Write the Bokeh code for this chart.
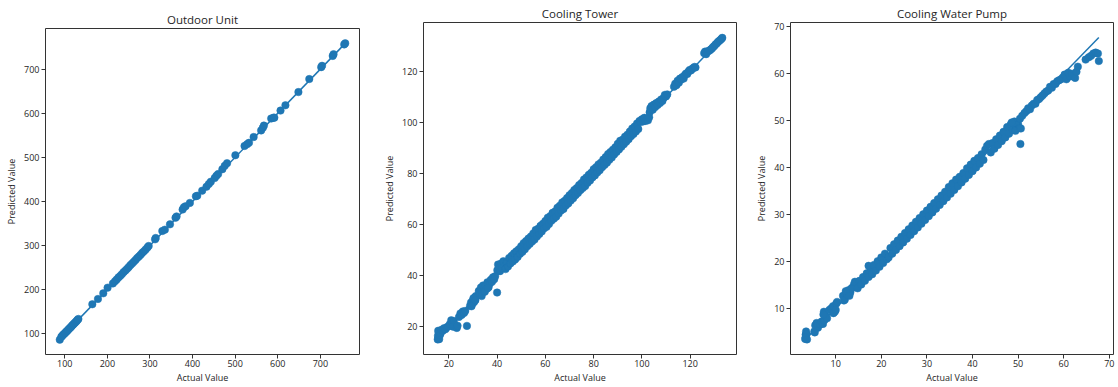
from bokeh.plotting import figure
from bokeh.layouts import row, column
from bokeh.models import Range1d, FixedTicker
from bokeh.embed import file_html
from bokeh.resources import INLINE

# ---------------- data ----------------
titles = ["Outdoor Unit", "Cooling Tower", "Cooling Water Pump"]
x_label = "Actual Value"
y_label = "Predicted Value"

ou_ticks = [100, 200, 300, 400, 500, 600, 700]
ct_ticks = [20, 40, 60, 80, 100, 120]
cwp_ticks = [10, 20, 30, 40, 50, 60, 70]

ou_act = [88.3, 92, 94, 96, 98, 100, 102, 104, 106, 108,
          110, 112, 114, 116, 118, 120, 122, 124, 126, 128,
          130, 132, 164.7, 177.9, 190.4, 200.5, 213, 218, 222, 226,
          230, 234, 238, 242, 246, 250, 254, 258, 262, 266,
          270, 274, 278, 282, 286, 290, 294, 297, 312, 313.5,
          329, 335, 347, 360, 362.5, 376.6, 379.7, 383.6, 393.7, 407.8,
          411, 422.6, 432.7, 438.2, 442.8, 452, 456, 460, 470, 475.6,
          481, 500.5, 522, 527.8, 532.4, 543.4, 561, 565, 567.5, 584.6,
          590, 592, 606.5, 618, 648.5, 674, 702, 704, 729, 731,
          756, 758.4]
ou_pred = [86.5, 93, 95, 97.5, 99, 101, 103, 105, 106.5, 109,
           111, 113, 114.5, 117, 119, 121, 123, 125, 127, 129,
           131.5, 133.5, 166.8, 178.8, 191.6, 204.4, 214, 219, 223, 227.5,
           231, 235, 239.5, 243, 247, 251, 255.5, 259, 263, 267,
           271.5, 275, 279, 283.5, 287, 291, 295.5, 299, 314, 317,
           333, 336, 348, 363, 366, 381.6, 386.8, 389, 396.6, 411.6,
           413, 424.4, 433.4, 439.4, 444.7, 453, 458, 462, 473, 480.7,
           486.7, 504.7, 525.8, 529.5, 533, 546, 561, 567, 572, 588,
           590, 590, 606, 618, 648, 677.5, 704.5, 707.5, 730, 733.8,
           756, 758.5]

ct_act = [15.4, 15.5, 15.7, 15.8, 16.0, 16.1, 16.3, 15.6, 16.6, 17.0,
          17.5, 18.0, 18.6, 19.2, 19.8, 20.4, 21.0, 21.5, 22.0, 22.4,
          21.8, 23.3, 23.6, 27.5, 24.2, 24.8, 25.3, 25.8, 26.3, 26.8,
          28.8, 29.2, 29.6, 30.0, 30.4, 30.8, 31.2, 29.4, 30.2, 31.0,
          32.4, 32.9, 33.3, 33.8, 34.2, 34.7, 35.1, 35.6, 36.0, 36.5,
          37.0, 37.4, 37.9, 38.3, 38.8, 39.2, 33.6, 34.9, 36.2, 40.0,
          40.1, 40.4, 40.8, 41.2, 41.7, 42.1, 42.6, 43.0, 43.5, 44.0,
          44.5, 45.0, 45.5, 46.0, 46.5, 47.0, 47.5, 48.0, 48.5, 49.0,
          49.5, 50.0, 50.5, 51.0, 51.5, 52.0, 52.5, 53.0, 53.5, 54.0,
          54.5, 55.0, 55.5, 56.0, 56.5, 57.0, 57.5, 58.0, 58.5, 59.0,
          59.5, 60.0, 60.5, 61.0, 61.5, 62.0, 62.5, 63.0, 63.5, 64.0,
          64.5, 65.0, 65.5, 66.0, 66.5, 67.0, 67.5, 68.0, 68.5, 69.0,
          69.5, 70.0, 70.5, 71.0, 71.5, 72.0, 72.5, 73.0, 73.5, 74.0,
          74.5, 75.0, 75.5, 76.0, 76.5, 77.0, 77.5, 78.0, 78.5, 79.0,
          79.5, 80.0, 80.5, 81.0, 81.5, 82.0, 82.5, 83.0, 83.5, 84.0,
          84.5, 85.0, 85.5, 86.0, 86.5, 87.0, 87.5, 88.0, 88.5, 89.0,
          89.5, 90.0, 90.5, 91.0, 91.5, 92.0, 92.5, 93.0, 93.5, 94.0,
          94.5, 95.0, 95.5, 96.0, 96.5, 97.0, 97.5, 98.0, 98.5, 99.0,
          99.5, 100.0, 100.5, 101.0, 101.5, 102.0, 102.5, 103.0, 103.2, 103.5,
          104.0, 104.5, 105.0, 105.5, 106.0, 106.5, 107.0, 107.5, 108.0, 108.5,
          109.0, 109.5, 110.0, 110.5, 113.3, 113.8, 114.3, 114.8, 115.3, 115.8,
          116.3, 116.8, 117.3, 117.8, 118.3, 118.8, 119.3, 119.8, 120.3, 120.8,
          121.3, 121.8, 122.2, 125.8, 126.2, 126.6, 127.0, 127.5, 128.0, 128.5,
          129.0, 129.5, 130.0, 130.5, 131.0, 131.5, 132.0, 132.5, 133.0, 133.3]
ct_pred = [14.8, 16.2, 15.4, 17.5, 14.9, 18.0, 16.5, 18.2, 17.2, 18.6,
           18.2, 19.2, 18.8, 19.6, 19.9, 20.8, 22.3, 21.2, 22.0, 20.6,
           19.8, 19.3, 20.2, 20.1, 23.6, 25.0, 24.4, 25.8, 25.2, 26.0,
           28.0, 29.3, 28.6, 30.2, 29.4, 31.3, 31.8, 27.8, 31.0, 30.2,
           33.8, 32.5, 35.2, 33.0, 36.0, 34.0, 35.8, 34.6, 37.2, 35.4,
           36.8, 38.2, 37.4, 39.2, 38.4, 39.6, 31.8, 33.5, 35.0, 33.2,
           42.0, 44.2, 43.0, 41.6, 44.6, 42.8, 45.5, 43.6, 42.4, 45.0,
           43.4, 46.8, 44.6, 47.6, 45.4, 48.6, 46.2, 49.4, 47.2, 50.2,
           48.4, 51.4, 49.2, 52.6, 50.2, 53.4, 51.4, 54.4, 52.3, 55.2,
           53.2, 56.4, 54.0, 57.8, 55.2, 58.2, 56.2, 59.4, 57.2, 60.2,
           58.4, 61.3, 59.0, 62.6, 60.1, 63.2, 61.4, 64.5, 62.2, 65.0,
           63.0, 66.5, 64.2, 67.3, 65.4, 68.6, 66.0, 69.2, 67.4, 70.3,
           68.2, 71.4, 69.3, 72.3, 70.2, 73.5, 71.4, 74.2, 72.3, 75.4,
           73.4, 76.2, 74.2, 77.6, 75.0, 78.4, 76.3, 79.4, 77.2, 80.2,
           78.4, 81.6, 79.2, 82.4, 80.3, 83.5, 81.2, 84.2, 82.4, 85.4,
           83.3, 86.4, 84.2, 87.6, 85.3, 88.4, 86.2, 89.3, 87.4, 90.2,
           88.4, 91.6, 89.4, 92.8, 90.4, 93.2, 91.4, 94.4, 92.4, 95.2,
           93.4, 96.4, 94.6, 97.6, 95.4, 98.4, 96.4, 99.6, 97.4, 100.6,
           100.2, 101.2, 100.4, 101.8, 100.6, 101.2, 100.8, 102.0, 104.0, 105.6,
           106.4, 105.0, 107.0, 106.0, 107.6, 106.8, 108.2, 107.6, 109.0, 108.4,
           109.6, 110.8, 110.2, 111.0, 114.0, 115.2, 114.6, 116.4, 115.6, 117.2,
           116.8, 117.8, 117.2, 118.6, 119.2, 119.0, 120.0, 120.6, 120.4, 121.0,
           121.4, 121.8, 121.6, 127.2, 127.8, 126.8, 127.6, 128.0, 128.2, 128.6,
           129.0, 129.6, 130.0, 130.6, 131.0, 131.6, 132.0, 132.4, 132.8, 133.2]

cwp_act = [3.3, 3.4, 3.5, 3.6, 3.4, 3.7, 5.3, 5.5, 5.8, 6.1,
           5.4, 6.0, 6.6, 6.9, 7.2, 7.5, 7.8, 8.1, 7.4, 7.3,
           8.6, 9.0, 9.4, 9.8, 10.1, 10.3, 9.5, 10.0, 11.6, 12.0,
           12.4, 12.8, 13.2, 13.6, 14.0, 14.4, 11.8, 12.6, 13.4, 14.2,
           12.2, 13.0, 14.8, 15.2, 15.6, 16.0, 16.4, 16.8, 17.2, 17.6,
           17.2, 18.0, 18.4, 18.8, 19.2, 19.6, 20.0, 20.4, 20.8, 21.2,
           21.6, 22.0, 22.4, 22.8, 23.2, 23.6, 24.0, 24.4, 24.8, 25.2,
           25.6, 26.0, 26.4, 26.8, 27.2, 27.6, 28.0, 28.4, 28.8, 29.2,
           29.6, 30.0, 30.4, 30.8, 31.2, 31.6, 32.0, 32.4, 32.8, 33.2,
           33.6, 34.0, 34.4, 34.8, 35.2, 35.6, 36.0, 36.4, 36.8, 37.2,
           37.6, 38.0, 38.4, 38.8, 39.2, 39.6, 40.0, 40.4, 40.8, 41.2,
           41.6, 42.0, 42.4, 42.8, 43.2, 43.6, 44.0, 44.4, 44.8, 45.2,
           45.6, 46.0, 46.4, 46.8, 47.2, 47.6, 48.0, 48.4, 48.8, 49.2,
           49.6, 50.0, 50.3, 48.6, 49.4, 50.5, 50.6, 50.4, 50.9, 51.4,
           51.8, 52.2, 52.6, 53.0, 53.4, 53.8, 54.2, 54.6, 55.0, 55.4,
           55.8, 56.2, 56.6, 57.0, 57.4, 57.8, 58.2, 58.6, 59.0, 59.4,
           59.8, 60.2, 60.6, 61.0, 61.4, 61.8, 62.2, 62.5, 62.8, 63.1,
           64.8, 65.5, 66.0, 66.5, 67.0, 67.5, 67.7]
cwp_pred = [3.4, 4.3, 5.0, 4.4, 3.7, 3.3, 5.0, 6.3, 6.8, 5.8,
            4.8, 6.6, 6.5, 7.1, 6.6, 7.4, 8.3, 7.8, 9.2, 8.6,
            9.6, 9.9, 10.4, 9.2, 10.9, 11.3, 8.9, 9.6, 12.6, 11.8,
            13.1, 13.8, 13.3, 14.3, 15.0, 14.5, 11.6, 12.7, 14.1, 15.6,
            13.6, 12.6, 14.2, 15.8, 15.0, 16.6, 15.8, 17.4, 16.6, 18.6,
            19.0, 17.2, 19.2, 18.0, 20.0, 18.8, 20.8, 19.6, 21.6, 20.4,
            20.8, 22.8, 21.6, 23.6, 22.4, 24.4, 23.2, 25.2, 24.0, 26.0,
            24.8, 26.8, 25.6, 27.6, 26.4, 28.4, 27.2, 29.2, 28.0, 30.0,
            28.8, 30.8, 29.6, 31.6, 30.4, 32.4, 31.2, 33.2, 32.0, 34.0,
            32.8, 34.8, 33.6, 35.8, 34.4, 36.6, 35.2, 37.4, 36.0, 38.0,
            36.8, 38.8, 37.6, 39.8, 38.4, 40.6, 39.2, 41.4, 40.0, 42.0,
            40.8, 42.8, 41.6, 43.8, 44.6, 45.0, 43.2, 45.2, 44.0, 46.0,
            44.8, 46.8, 45.6, 47.6, 46.4, 48.6, 47.2, 49.2, 48.0, 49.8,
            48.2, 49.2, 48.4, 49.6, 47.8, 45.0, 48.3, 50.4, 51.0, 51.6,
            52.0, 52.6, 52.4, 53.2, 53.6, 53.6, 54.4, 54.6, 55.0, 55.4,
            55.8, 56.2, 56.4, 57.2, 57.0, 57.8, 57.8, 58.4, 58.6, 58.8,
            59.2, 59.8, 58.8, 60.2, 59.4, 60.0, 59.6, 59.1, 60.4, 61.5,
            63.0, 63.5, 63.8, 64.3, 64.5, 64.3, 62.7]

# ---------------- styling ----------------
BLUE = "#1f77b4"
FONT = "Open Sans"
TEXT = "#262626"


def padded(lo, hi, frac=0.05):
    d = (hi - lo) * frac
    return lo - d, hi + d


def panel(title, act, pred, ticks, width, height, bl, br, bt, bb):
    lo, hi = min(act), max(act)
    xr = padded(lo, hi)
    yr = padded(min(min(pred), lo), max(max(pred), hi))
    p = figure(width=width, height=height, output_backend="svg",
               toolbar_location=None, x_range=Range1d(*xr),
               y_range=Range1d(*yr), min_border_left=bl,
               min_border_right=br, min_border_top=bt, min_border_bottom=bb,
               background_fill_color="white", border_fill_color="white")
    p.title.text = title
    p.title.align = "center"
    p.title.text_font = FONT
    p.title.text_font_size = "11.5px"
    p.title.text_font_style = "normal"
    p.title.text_color = TEXT
    p.title.standoff = 4
    p.xgrid.visible = False
    p.ygrid.visible = False
    p.outline_line_color = "#333333"
    p.outline_line_width = 1
    p.outline_line_alpha = 1
    for ax, lab in ((p.xaxis[0], x_label), (p.yaxis[0], y_label)):
        ax.axis_label = lab
        ax.ticker = FixedTicker(ticks=ticks)
        ax.axis_line_color = None
        ax.major_tick_in = 0
        ax.major_tick_out = 4
        ax.major_tick_line_color = "#333333"
        ax.minor_tick_line_color = None
        ax.major_label_text_font = FONT
        ax.major_label_text_font_size = "9px"
        ax.major_label_text_color = TEXT
        ax.axis_label_text_font = FONT
        ax.axis_label_text_font_size = "9px"
        ax.axis_label_text_font_style = "normal"
        ax.axis_label_text_color = TEXT
    p.yaxis[0].major_label_standoff = 2
    p.yaxis[0].axis_label_standoff = 3
    p.xaxis[0].major_label_standoff = 1
    p.xaxis[0].axis_label_standoff = 1
    p.line([lo, hi], [lo, hi], line_color=BLUE, line_width=1.5)
    p.scatter(act, pred, size=7.5, fill_color=BLUE, line_color=BLUE,
              line_width=0.5)
    return p


p1 = panel(titles[0], ou_act, ou_pred, ou_ticks, 380, 386, 45, 21, 28, 29)
p2 = panel(titles[1], ct_act, ct_pred, ct_ticks, 372, 386, 38, 16, 22, 30)
p3 = panel(titles[2], cwp_act, cwp_pred, cwp_ticks, 365, 386, 36, 4, 22, 31)

layout = row(column(p1), column(p2), column(p3))
open("out.html", "w").write(file_html(layout, INLINE))
